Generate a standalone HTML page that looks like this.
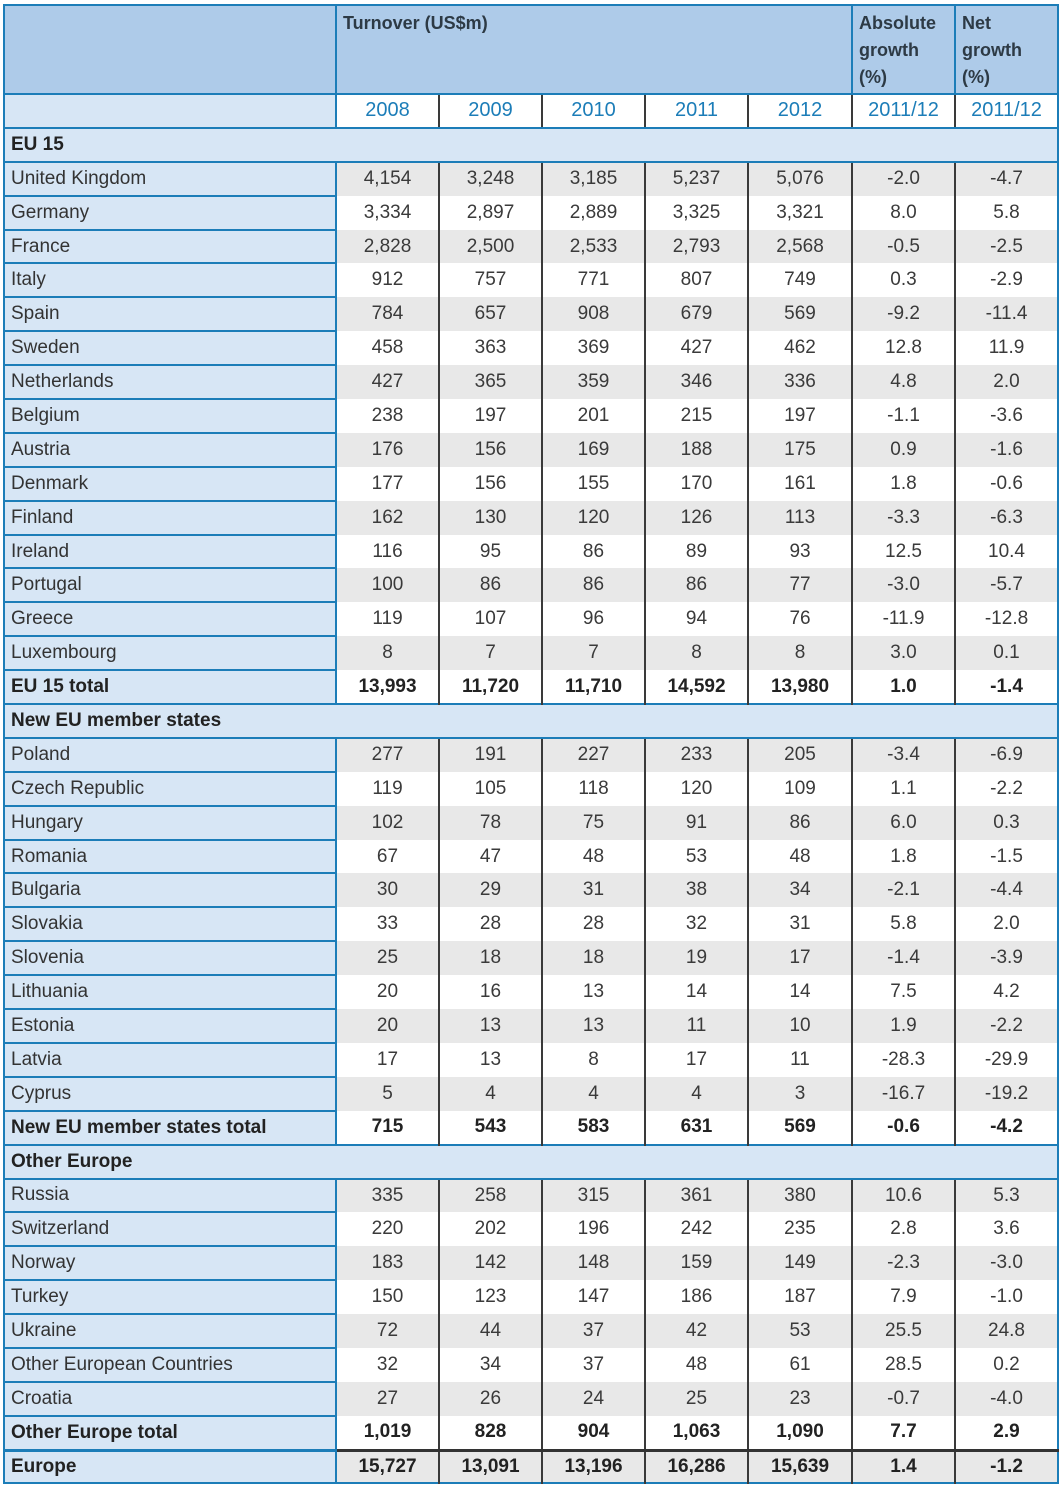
<!DOCTYPE html>
<html><head><meta charset="utf-8"><style>
body{margin:0;background:#fff;width:1061px;height:1485px;overflow:hidden}
table{position:absolute;left:3px;top:4px;width:1054px;border-collapse:collapse;table-layout:fixed;font-family:"Liberation Sans",sans-serif;font-size:19px;color:#3a3a3a;border:2px solid #1c7db8}
td{padding:0;height:31.9px;text-align:center;border-left:2px solid #3a3a3a;white-space:nowrap;overflow:hidden}
td.l{text-align:left;padding-left:6px;background:#d7e6f5;border:2px solid #1c7db8;border-left:none;color:#333}
tr.g td{background:#e8e8e8}
tr.g td.l{background:#d7e6f5}
tr.s td{background:#d7e6f5;text-align:left;padding-left:6px;font-weight:bold;border:2px solid #1c7db8;color:#222}
tr.t td{font-weight:bold;color:#222}
tr.e td{font-weight:bold;color:#222;background:#e8e8e8;border-top:3px solid #333;height:30px}
tr.e td.l{background:#d7e6f5;border-top:3px solid #1c7db8}
tr.h td{background:#aecbe9;vertical-align:top;text-align:left;padding:4px 6px 0;font-weight:bold;color:#2d3a45;height:83px;border:2px solid #1c7db8;line-height:27px;font-size:18px;white-space:normal}
tr.y td{background:#fff;color:#1c7db8;border-top:2px solid #1c7db8;border-bottom:2px solid #1c7db8;font-size:20px}
tr.y td.l{background:#d7e6f5}
</style></head><body>
<table>
<colgroup><col style="width:332px"><col style="width:103px"><col style="width:103px"><col style="width:103px"><col style="width:103px"><col style="width:104px"><col style="width:103px"><col style="width:103px"></colgroup>
<tr class="h"><td></td><td colspan="5">Turnover (US$m)</td><td>Absolute growth (%)</td><td>Net growth (%)</td></tr>
<tr class="y"><td class="l"></td><td>2008</td><td>2009</td><td>2010</td><td>2011</td><td>2012</td><td>2011/12</td><td>2011/12</td></tr>
<tr class="s"><td colspan="8">EU 15</td></tr>
<tr class="g"><td class="l">United Kingdom</td><td>4,154</td><td>3,248</td><td>3,185</td><td>5,237</td><td>5,076</td><td>-2.0</td><td>-4.7</td></tr>
<tr><td class="l">Germany</td><td>3,334</td><td>2,897</td><td>2,889</td><td>3,325</td><td>3,321</td><td>8.0</td><td>5.8</td></tr>
<tr class="g"><td class="l">France</td><td>2,828</td><td>2,500</td><td>2,533</td><td>2,793</td><td>2,568</td><td>-0.5</td><td>-2.5</td></tr>
<tr><td class="l">Italy</td><td>912</td><td>757</td><td>771</td><td>807</td><td>749</td><td>0.3</td><td>-2.9</td></tr>
<tr class="g"><td class="l">Spain</td><td>784</td><td>657</td><td>908</td><td>679</td><td>569</td><td>-9.2</td><td>-11.4</td></tr>
<tr><td class="l">Sweden</td><td>458</td><td>363</td><td>369</td><td>427</td><td>462</td><td>12.8</td><td>11.9</td></tr>
<tr class="g"><td class="l">Netherlands</td><td>427</td><td>365</td><td>359</td><td>346</td><td>336</td><td>4.8</td><td>2.0</td></tr>
<tr><td class="l">Belgium</td><td>238</td><td>197</td><td>201</td><td>215</td><td>197</td><td>-1.1</td><td>-3.6</td></tr>
<tr class="g"><td class="l">Austria</td><td>176</td><td>156</td><td>169</td><td>188</td><td>175</td><td>0.9</td><td>-1.6</td></tr>
<tr><td class="l">Denmark</td><td>177</td><td>156</td><td>155</td><td>170</td><td>161</td><td>1.8</td><td>-0.6</td></tr>
<tr class="g"><td class="l">Finland</td><td>162</td><td>130</td><td>120</td><td>126</td><td>113</td><td>-3.3</td><td>-6.3</td></tr>
<tr><td class="l">Ireland</td><td>116</td><td>95</td><td>86</td><td>89</td><td>93</td><td>12.5</td><td>10.4</td></tr>
<tr class="g"><td class="l">Portugal</td><td>100</td><td>86</td><td>86</td><td>86</td><td>77</td><td>-3.0</td><td>-5.7</td></tr>
<tr><td class="l">Greece</td><td>119</td><td>107</td><td>96</td><td>94</td><td>76</td><td>-11.9</td><td>-12.8</td></tr>
<tr class="g"><td class="l">Luxembourg</td><td>8</td><td>7</td><td>7</td><td>8</td><td>8</td><td>3.0</td><td>0.1</td></tr>
<tr class="t"><td class="l">EU 15 total</td><td>13,993</td><td>11,720</td><td>11,710</td><td>14,592</td><td>13,980</td><td>1.0</td><td>-1.4</td></tr>
<tr class="s"><td colspan="8">New EU member states</td></tr>
<tr class="g"><td class="l">Poland</td><td>277</td><td>191</td><td>227</td><td>233</td><td>205</td><td>-3.4</td><td>-6.9</td></tr>
<tr><td class="l">Czech Republic</td><td>119</td><td>105</td><td>118</td><td>120</td><td>109</td><td>1.1</td><td>-2.2</td></tr>
<tr class="g"><td class="l">Hungary</td><td>102</td><td>78</td><td>75</td><td>91</td><td>86</td><td>6.0</td><td>0.3</td></tr>
<tr><td class="l">Romania</td><td>67</td><td>47</td><td>48</td><td>53</td><td>48</td><td>1.8</td><td>-1.5</td></tr>
<tr class="g"><td class="l">Bulgaria</td><td>30</td><td>29</td><td>31</td><td>38</td><td>34</td><td>-2.1</td><td>-4.4</td></tr>
<tr><td class="l">Slovakia</td><td>33</td><td>28</td><td>28</td><td>32</td><td>31</td><td>5.8</td><td>2.0</td></tr>
<tr class="g"><td class="l">Slovenia</td><td>25</td><td>18</td><td>18</td><td>19</td><td>17</td><td>-1.4</td><td>-3.9</td></tr>
<tr><td class="l">Lithuania</td><td>20</td><td>16</td><td>13</td><td>14</td><td>14</td><td>7.5</td><td>4.2</td></tr>
<tr class="g"><td class="l">Estonia</td><td>20</td><td>13</td><td>13</td><td>11</td><td>10</td><td>1.9</td><td>-2.2</td></tr>
<tr><td class="l">Latvia</td><td>17</td><td>13</td><td>8</td><td>17</td><td>11</td><td>-28.3</td><td>-29.9</td></tr>
<tr class="g"><td class="l">Cyprus</td><td>5</td><td>4</td><td>4</td><td>4</td><td>3</td><td>-16.7</td><td>-19.2</td></tr>
<tr class="t"><td class="l">New EU member states total</td><td>715</td><td>543</td><td>583</td><td>631</td><td>569</td><td>-0.6</td><td>-4.2</td></tr>
<tr class="s"><td colspan="8">Other Europe</td></tr>
<tr class="g"><td class="l">Russia</td><td>335</td><td>258</td><td>315</td><td>361</td><td>380</td><td>10.6</td><td>5.3</td></tr>
<tr><td class="l">Switzerland</td><td>220</td><td>202</td><td>196</td><td>242</td><td>235</td><td>2.8</td><td>3.6</td></tr>
<tr class="g"><td class="l">Norway</td><td>183</td><td>142</td><td>148</td><td>159</td><td>149</td><td>-2.3</td><td>-3.0</td></tr>
<tr><td class="l">Turkey</td><td>150</td><td>123</td><td>147</td><td>186</td><td>187</td><td>7.9</td><td>-1.0</td></tr>
<tr class="g"><td class="l">Ukraine</td><td>72</td><td>44</td><td>37</td><td>42</td><td>53</td><td>25.5</td><td>24.8</td></tr>
<tr><td class="l">Other European Countries</td><td>32</td><td>34</td><td>37</td><td>48</td><td>61</td><td>28.5</td><td>0.2</td></tr>
<tr class="g"><td class="l">Croatia</td><td>27</td><td>26</td><td>24</td><td>25</td><td>23</td><td>-0.7</td><td>-4.0</td></tr>
<tr class="t"><td class="l">Other Europe total</td><td>1,019</td><td>828</td><td>904</td><td>1,063</td><td>1,090</td><td>7.7</td><td>2.9</td></tr>
<tr class="e"><td class="l">Europe</td><td>15,727</td><td>13,091</td><td>13,196</td><td>16,286</td><td>15,639</td><td>1.4</td><td>-1.2</td></tr>
</table>
</body></html>
